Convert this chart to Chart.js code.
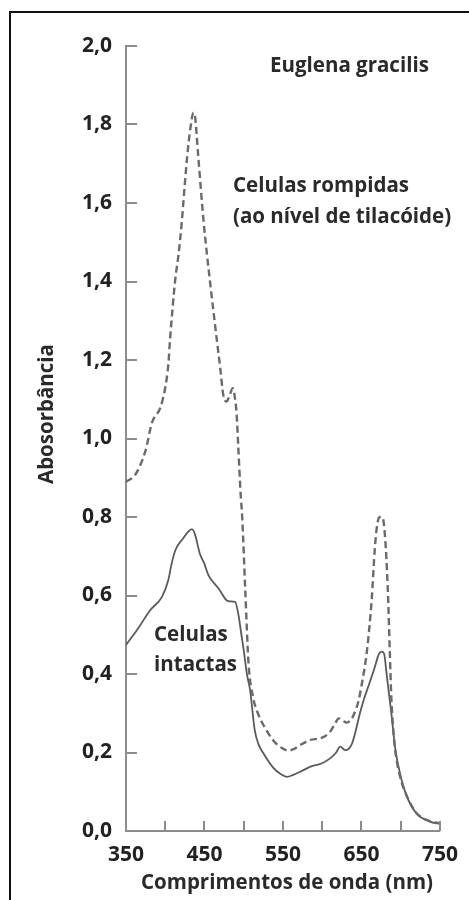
<!DOCTYPE html>
<html><head><meta charset="utf-8">
<script src="https://cdn.jsdelivr.net/npm/chart.js@4.4.1/dist/chart.umd.min.js"></script>
<style>
body{margin:0;background:#fff;overflow:hidden}
#frame{position:absolute;left:9px;top:11px;width:600px;height:1000px;border-left:2px solid #111;border-top:2px solid #111}
#c{position:absolute;left:0;top:0}
</style>
</head><body>
<div id="frame"></div>
<canvas id="c" width="469" height="900"></canvas>
<script>
// ---- data ----
const xTickLabels = [350, 450, 550, 650, 750];
const yTickValues = [0, 0.2, 0.4, 0.6, 0.8, 1.0, 1.2, 1.4, 1.6, 1.8, 2.0];

const wlRompidas = [350,358,364,375,383,394,400,404,406,408,411,413,417,421,425,428,432,436,438,442,449,457,464,470,474,478,482,486,489,491,493,496,498,502,506,512,518,525,538,548,557,565,572,585,597,604,610,616,621,626,631,636,641,646,650,657,663,667,670,673,676,678,681,684,686,688,690,693,699,708,720,737,750];
const absRompidas = [0.89,0.90,0.915,0.97,1.04,1.08,1.13,1.19,1.25,1.30,1.37,1.41,1.47,1.55,1.65,1.72,1.79,1.83,1.82,1.72,1.55,1.40,1.28,1.18,1.11,1.094,1.11,1.128,1.10,1.06,0.98,0.86,0.80,0.61,0.43,0.34,0.30,0.27,0.23,0.212,0.205,0.21,0.219,0.232,0.236,0.242,0.253,0.272,0.287,0.282,0.276,0.282,0.30,0.33,0.37,0.46,0.59,0.72,0.78,0.80,0.80,0.79,0.72,0.59,0.46,0.34,0.27,0.205,0.14,0.088,0.046,0.025,0.02];

const wlIntactas = [350,364,381,396,404,408,413,423,429,434,438,444,450,455,462,468,478,483,489,493,497,500,504,508,514,519,525,538,547,555,563,572,585,599,610,617,623,629,634,638,642,648,653,659,667,672,676,679,682,685,688,693,699,708,720,737,750];
const absIntactas = [0.474,0.512,0.563,0.597,0.64,0.68,0.716,0.746,0.762,0.769,0.755,0.707,0.68,0.652,0.632,0.618,0.588,0.585,0.584,0.554,0.50,0.46,0.40,0.36,0.257,0.22,0.198,0.16,0.145,0.138,0.143,0.151,0.164,0.172,0.185,0.198,0.215,0.206,0.21,0.223,0.25,0.30,0.335,0.37,0.418,0.45,0.457,0.45,0.40,0.35,0.30,0.21,0.147,0.087,0.045,0.024,0.018];

const seriesNames = ["Celulas rompidas (ao nível de tilacóide)", "Celulas intactas"];
const chartTitle = "Euglena gracilis";
const xTitle = "Comprimentos de onda (nm)";
const yTitle = "Abosorbância";

// ---- build ----
const toPts = (xs, ys) => xs.map((x, i) => ({x, y: ys[i]}));
const AXIS = '#8c8c8c';
const TXT = '#222';
const FONT = '"Open Sans", sans-serif';

const innerTicks = {
  id: 'innerTicks',
  afterDraw(chart) {
    const {ctx, scales: {x, y}} = chart;
    ctx.save();
    ctx.strokeStyle = AXIS;
    ctx.lineWidth = 2;
    ctx.beginPath();
    y.ticks.forEach(t => {
      const py = Math.round(y.getPixelForValue(t.value));
      ctx.moveTo(y.right, py); ctx.lineTo(y.right + 11, py);
    });
    x.ticks.forEach(t => {
      if (t.value === x.min) return;
      const px = Math.round(x.getPixelForValue(t.value));
      ctx.moveTo(px, x.top); ctx.lineTo(px, x.top - 10);
    });
    ctx.stroke();
    // texts
    ctx.fillStyle = '#2a2a2a';
    ctx.textBaseline = 'middle';
    ctx.font = 'bold 20.5px ' + FONT;
    ctx.textAlign = 'left';
    ctx.fillText(chartTitle, 270, 66);
    ctx.fillText('Celulas rompidas', 233, 186);
    ctx.fillText('(ao nível de tilacóide)', 233, 217);
    ctx.fillText('Celulas', 154, 635);
    ctx.fillText('intactas', 154, 665);
    ctx.textAlign = 'center';
    ctx.fillText(xTitle, 287, 883);
    ctx.translate(47, 414);
    ctx.rotate(-Math.PI / 2);
    ctx.fillText(yTitle, 0, 0);
    ctx.restore();
  }
};

new Chart(document.getElementById('c'), {
  type: 'line',
  data: {
    datasets: [
      {label: seriesNames[0], data: toPts(wlRompidas, absRompidas), borderColor: '#6a6a6a', borderWidth: 2.4, borderDash: [7, 4], pointRadius: 0, cubicInterpolationMode: 'monotone', fill: false},
      {label: seriesNames[1], data: toPts(wlIntactas, absIntactas), borderColor: '#5a5a5a', borderWidth: 1.8, pointRadius: 0, cubicInterpolationMode: 'monotone', fill: false}
    ]
  },
  options: {
    responsive: false,
    animation: false,
    devicePixelRatio: 1,
    layout: {padding: {top: 46, right: 29, left: 0, bottom: 0}},
    plugins: {legend: {display: false}, tooltip: {enabled: false}},
    scales: {
      x: {
        type: 'linear', min: 350, max: 750,
        afterFit: s => { s.height = 69; },
        afterBuildTicks: s => { const t = []; for (let v = 350; v <= 750; v += 50) t.push({value: v}); s.ticks = t; },
        grid: {display: false, drawTicks: false},
        border: {display: true, color: AXIS, width: 2},
        ticks: {
          autoSkip: false, maxRotation: 0, padding: 11, color: TXT,
          font: {family: FONT, size: 21, weight: 'bold'},
          callback: v => xTickLabels.includes(v) ? String(v) : ''
        }
      },
      y: {
        min: 0, max: 2,
        afterFit: s => { s.width = 126; },
        afterBuildTicks: s => { s.ticks = yTickValues.map(v => ({value: v})); },
        grid: {display: false, drawTicks: false},
        border: {display: true, color: AXIS, width: 2},
        ticks: {
          padding: 14, color: TXT,
          font: {family: FONT, size: 21, weight: 'bold'},
          callback: v => v.toFixed(1).replace('.', ',')
        }
      }
    }
  },
  plugins: [innerTicks]
});
</script>
</body></html>
